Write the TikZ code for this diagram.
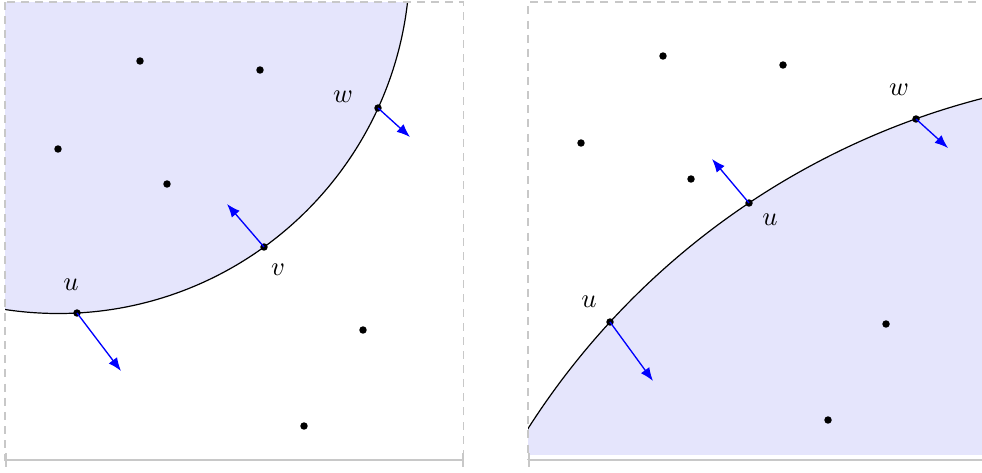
\documentclass[tikz,border=0pt]{standalone}
\usetikzlibrary{arrows.meta}
\definecolor{framegray}{RGB}{200,200,200}
\definecolor{regionfill}{RGB}{229,229,252}
\tikzset{
  frame/.style={draw=framegray, line width=0.45pt, dash pattern=on 3pt off 2.3pt},
  scalebar/.style={draw=framegray, line width=0.7pt, {|[width=5pt]}-{|[width=5pt]}},
  dot/.style={circle, fill=black, inner sep=0pt, minimum size=2.8pt},
  nvec/.style={draw=blue, line width=0.5pt, -{Latex[length=5pt,width=3.9pt]}},
  rim/.style={draw=black, line width=0.45pt},
  lbl/.style={inner sep=0pt}
}
\begin{document}
\begin{tikzpicture}[x=0.375pt, y=-0.375pt]
\clip (0,0) rectangle (982,472);
% ---------------- left panel ----------------
\begin{scope}
  \clip (5,2) rectangle (463.5,460);
  \fill[regionfill] (58.3,-38) circle[radius=351.5];
  \draw[rim] (58.3,-38) circle[radius=351.5];
\end{scope}
\draw[frame] (5,2) rectangle (463.5,460);
\draw[scalebar] (5,460) -- (463.5,460);

\node[dot] (a1) at (140,61) {};
\node[dot] (a2) at (260,70) {};
\node[dot] (a3) at (58,149) {};
\node[dot] (a4) at (167,184) {};
\node[dot] (a5) at (363,330) {};
\node[dot] (a6) at (304,426) {};

\node[dot] (lu) at (77,313) {};
\node[dot] (lv) at (264,247) {};
\node[dot] (lw) at (378,108) {};
\coordinate (lut) at (121,371);
\coordinate (lvt) at (227,204);
\coordinate (lwt) at (410,137);
\draw[nvec] (lu.center) -- (lut);
\draw[nvec] (lv.center) -- (lvt);
\draw[nvec] (lw.center) -- (lwt);
\node[lbl] (lul) at (71,285) {$u$};
\node[lbl] (lvl) at (278,270) {$v$};
\node[lbl] (lwl) at (343,97) {$w$};

% ---------------- right panel ----------------
\begin{scope}
  \clip (528,2) rectangle (990,454);
  \fill[regionfill] (1174.5,840.7) circle[radius=766.6];
  \draw[rim] (1174.5,840.7) circle[radius=766.6];
\end{scope}
\draw[frame] (990,2) -- (528,2) -- (528,460);
\draw[scalebar] (528,460) -- (1000,460);

\node[dot] (b1) at (663,56) {};
\node[dot] (b2) at (783,65) {};
\node[dot] (b3) at (581,143) {};
\node[dot] (b4) at (691,179) {};
\node[dot] (b5) at (886,324) {};
\node[dot] (b6) at (828,420) {};

\node[dot] (ru) at (610,322) {};
\node[dot] (rv) at (749,203) {};
\node[dot] (rw) at (916,119) {};
\coordinate (rut) at (653,381);
\coordinate (rvt) at (712,159);
\coordinate (rwt) at (948,148);
\draw[nvec] (ru.center) -- (rut);
\draw[nvec] (rv.center) -- (rvt);
\draw[nvec] (rw.center) -- (rwt);
\node[lbl] (rul) at (589,302) {$u$};
\node[lbl] (rvl) at (770,220) {$u$};
\node[lbl] (rwl) at (899,90) {$w$};
\end{tikzpicture}
\end{document}
